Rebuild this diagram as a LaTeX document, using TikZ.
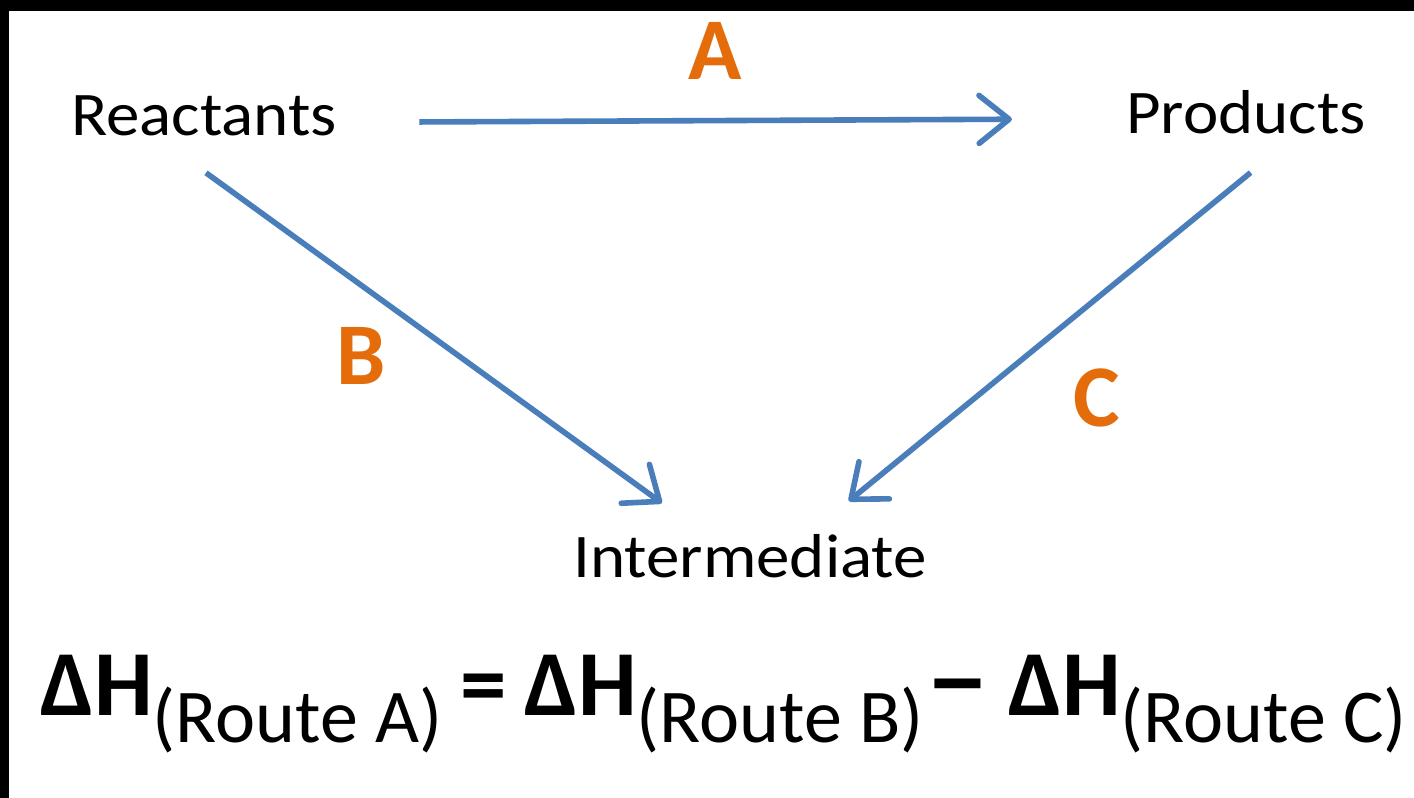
\documentclass[tikz,border=0pt]{standalone}
\usepackage{fontspec}
\setmainfont{Carlito}
\newfontfamily\widefont{Carlito}[FakeStretch=1.08]
\usetikzlibrary{
	positioning,
	arrows.meta
}

\definecolor{routeblue}{RGB}{74,126,187}
\definecolor{routeorange}{RGB}{228,108,10}

\newcommand{\routesub}[1]{\lower13.5pt\hbox{\fontsize{38}{40}\selectfont\mdseries(Route #1)}}

\begin{document}
\begin{tikzpicture}[
			x=0.5pt,y=-0.5pt,
			species/.style={
				font=\widefont\fontsize{31}{36}\selectfont,
				inner sep=0pt
			},
			route/.style={
				font=\bfseries\fontsize{44}{48}\selectfont,
				text=routeorange,
				inner sep=0pt
			},
			arrow/.style={
				-{Straight Barb[length=15pt,width=24pt,line width=2.8pt,round]},
				line width=2.8pt,
				draw=routeblue
			}
			]
			
			% frame
			\fill[black] (0,0) rectangle (1414,798);
			\fill[white] (9,11) rectangle (1414,798);
			\useasboundingbox (0,0) rectangle (1414,798);
			
			\node[species,anchor=base] (rea) at (204,135) {Reactants};
			
			\node[species,anchor=base] (pro) at (1246,133) {Products};
			
			\node[species,anchor=base] (int) at (750,577) {Intermediate};
			
			\node[route] (la) at (715,51) {A};
			\node[route] (lb) at (361,356) {B};
			\node[route] (lc) at (1097,398) {C};
			
			\draw[arrow,shorten <=41pt,shorten >=57pt]
			([yshift=-3.5pt]rea.east)--([yshift=-3.5pt]pro.west);
			\draw[arrow,shorten <=31.5pt,shorten >=26pt]
			([xshift=-24.5pt]rea.south)--([xshift=-23pt]int.north);
			\draw[arrow,shorten <=30.6pt,shorten >=25.7pt]
			([xshift=26pt]pro.south)--([xshift=29.5pt]int.north);
			
			\node[anchor=base west,inner sep=0pt,font=\fontsize{46.5}{50}\selectfont] (eq) at (40,715)
			{\textbf{ΔH}\routesub{A}\hspace{9pt}\textbf{=}\hspace{9pt}\textbf{ΔH}\routesub{B}\hspace{1pt}\scalebox{1.4}[1.2]{\textbf{–}}\hspace{9pt}\textbf{ΔH}\routesub{C}};
			
		\end{tikzpicture}
\end{document}
